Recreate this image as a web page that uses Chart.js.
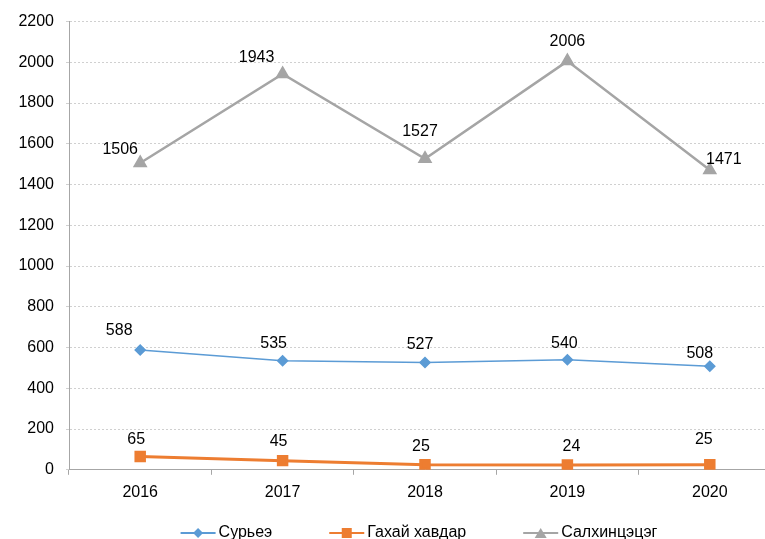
<!DOCTYPE html>
<html>
<head>
<meta charset="utf-8">
<script src="https://cdn.jsdelivr.net/npm/chart.js@4"></script>
<style>
  html, body { margin: 0; padding: 0; overflow: hidden; background: #fff; }
  #wrap { width: 790px; height: 546px; }
</style>
</head>
<body>
<div id="wrap"><canvas id="chart"></canvas></div>
<script>
const years = ['2016', '2017', '2018', '2019', '2020'];
const suryee = [588, 535, 527, 540, 508];
const gakhai = [65, 45, 25, 24, 25];
const salkhi = [1506, 1943, 1527, 2006, 1471];
const yTicks = [0, 200, 400, 600, 800, 1000, 1200, 1400, 1600, 1800, 2000, 2200];

const FONT = '"Liberation Sans", Arial, sans-serif';
const markers = ['diamond', 'square', 'triangle'];

// label offsets (dx, dy) from each point
const labelShift = [
    [[-21, -19], [-9, -17], [-5, -18], [-3, -16], [-10, -13]],
    [[-4, -17], [-4, -19], [-4, -18], [4, -18], [-6, -25]],
    [[-20, -13], [-26, -16], [-5, -27], [0, -20], [14, -11]]
];

const drawMarker = (g, style, x, y) => {
    g.beginPath();
    if (style == 'diamond') {
        g.moveTo(x, y - 5); g.lineTo(x + 5, y); g.lineTo(x, y + 5); g.lineTo(x - 5, y);
    } else if (style == 'square') {
        g.rect(x - 5, y - 5, 10, 10);
    } else {
        g.moveTo(x, y - 5); g.lineTo(x + 6, y + 5); g.lineTo(x - 6, y + 5);
    }
    g.closePath(); g.fill();
}

const pointLabels = {
    id: 'pointLabels',
    afterDatasetsDraw(chart) {
        const ctx = chart.ctx;
        ctx.save();
        ctx.font = '16px ' + FONT;
        ctx.fillStyle = '#000';
        ctx.textAlign = 'center';
        ctx.textBaseline = 'middle';
        chart.data.datasets.forEach((ds, d) => {
            const meta = chart.getDatasetMeta(d);
            meta.data.forEach((pt, i) => {
                const s = labelShift[d][i];
                ctx.fillText(ds.data[i], pt.x + s[0], pt.y + s[1]);
            });
        });
        ctx.restore();
    }
};

// legend: line with marker, then the name
const lineLegend = {
    id: 'lineLegend',
    afterDraw(chart) {
        const ctx = chart.ctx;
        const area = chart.chartArea;
        ctx.save();
        ctx.font = '16px ' + FONT;
        ctx.textBaseline = 'middle';
        ctx.textAlign = 'left';
        const lineLen = 35, gapText = 3, gapItem = 57;
        const items = chart.data.datasets.map(ds => ({ ds, w: ctx.measureText(ds.label).width }));
        let total = 0;
        items.forEach(it => { total += lineLen + gapText + it.w; });
        total += gapItem * (items.length - 1);
        let x = (area.left + area.right) / 2 - 6 - total / 2;
        const y = 533;
        items.forEach((it, i) => {
            ctx.strokeStyle = it.ds.borderColor;
            ctx.fillStyle = it.ds.borderColor;
            ctx.lineWidth = 2;
            ctx.beginPath(); ctx.moveTo(x, y); ctx.lineTo(x + lineLen, y); ctx.stroke();
            drawMarker(ctx, markers[i], x + lineLen / 2, y);
            ctx.fillStyle = '#000';
            ctx.fillText(it.ds.label, x + lineLen + gapText, y);
            x += lineLen + gapText + it.w + gapItem;
        });
        ctx.restore();
    }
};

const ctx = document.querySelector('#chart').getContext('2d');
const chart = new Chart(ctx, {
    type: 'line',
    data: {
        labels: years,
        datasets: [{
            label: 'Сурьеэ',
            data: suryee,
            borderColor: '#5b9bd5',
            backgroundColor: '#5b9bd5',
            borderWidth: 1.5,
            pointStyle: 'rectRot',
            pointRadius: 5,
            pointHoverRadius: 5,
            tension: 0
        }, {
            label: 'Гахай хавдар',
            data: gakhai,
            borderColor: '#ed7d31',
            backgroundColor: '#ed7d31',
            borderWidth: 3,
            pointStyle: 'rect',
            pointRadius: 6,
            pointHoverRadius: 6,
            tension: 0
        }, {
            label: 'Салхинцэцэг',
            data: salkhi,
            borderColor: '#a5a5a5',
            backgroundColor: '#a5a5a5',
            borderWidth: 2.5,
            pointStyle: 'triangle',
            pointRadius: 6,
            pointHoverRadius: 6,
            tension: 0
        }]
    },
    options: {
        responsive: true,
        maintainAspectRatio: false,
        animation: false,
        layout: { padding: { top: 17, right: 6, left: 0, bottom: 36 } },
        plugins: {
            tooltip: { enabled: false },
            legend: { display: false }
        },
        scales: {
            x: {
                offset: true,
                grid: { display: true, drawOnChartArea: false, offset: true, tickLength: 5, color: '#a6a6a6' },
                border: { color: '#a6a6a6', width: 1 },
                ticks: { color: '#000', padding: 8, font: { family: FONT, size: 16 } }
            },
            y: {
                min: 0,
                max: 2200,
                afterBuildTicks: (scale) => { scale.ticks = yTicks.map(v => ({ value: v })); },
                afterFit: (scale) => { scale.width = 69; },
                grid: { color: '#d0d0d0', tickLength: 3, lineWidth: 1 },
                border: { color: '#a6a6a6', width: 1, dash: [2, 2] },
                ticks: {
                    color: '#000',
                    padding: 12,
                    font: { family: FONT, size: 16 },
                    callback: (v) => String(v)
                }
            }
        }
    },
    plugins: [pointLabels, lineLegend]
});
</script>
</body>
</html>
